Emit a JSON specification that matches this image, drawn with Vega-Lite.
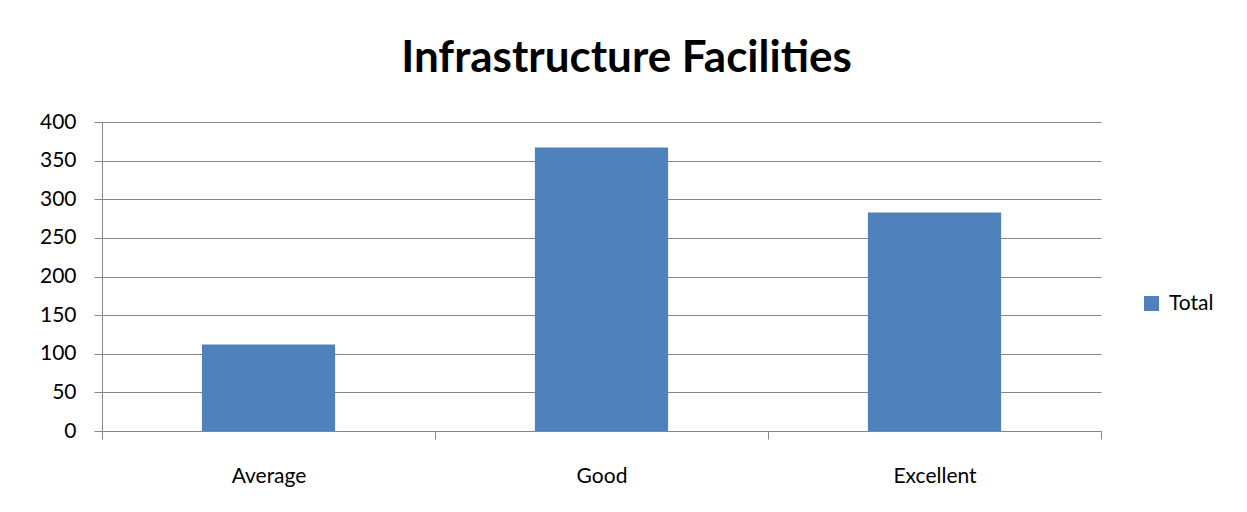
{
  "$schema": "https://vega.github.io/schema/vega-lite/v6.json",
  "autosize": {"type": "none"},
  "width": 999,
  "height": 309,
  "padding": {"left": 102, "top": 122, "right": 146, "bottom": 81},
  "background": "white",
  "title": {
    "text": "Infrastructure Facilities",
    "font": "Lato",
    "fontSize": 44,
    "fontWeight": "bold",
    "color": "#000000",
    "anchor": "middle",
    "dx": 25,
    "offset": 30
  },
  "data": {
    "values": [
      {"rating": "Average", "count": 112, "series": "Total"},
      {"rating": "Good", "count": 367, "series": "Total"},
      {"rating": "Excellent", "count": 283, "series": "Total"}
    ]
  },
  "mark": {"type": "bar", "width": {"band": 0.4}},
  "encoding": {
    "x": {
      "field": "rating",
      "type": "nominal",
      "sort": ["Average", "Good", "Excellent"],
      "scale": {"paddingInner": 0, "paddingOuter": 0},
      "axis": {
        "title": null,
        "labelAngle": 0,
        "tickBand": "extent",
        "tickSize": 8,
        "tickColor": "#868686",
        "domainColor": "#868686",
        "labelPadding": 26,
        "labelFont": "Lato",
        "labelFontSize": 21,
        "labelColor": "#000000"
      }
    },
    "y": {
      "field": "count",
      "type": "quantitative",
      "scale": {"domain": [0, 400]},
      "axis": {
        "title": null,
        "values": [0, 50, 100, 150, 200, 250, 300, 350, 400],
        "tickSize": 8,
        "tickColor": "#868686",
        "domainColor": "#868686",
        "gridColor": "#868686",
        "grid": true,
        "labelPadding": 18,
        "labelFont": "Lato",
        "labelFontSize": 21,
        "labelColor": "#000000"
      }
    },
    "color": {
      "field": "series",
      "type": "nominal",
      "scale": {"range": ["#4F81BD"]},
      "legend": {
        "title": null,
        "orient": "none",
        "legendX": 1039,
        "legendY": 171,
        "symbolType": "square",
        "symbolSize": 225,
        "symbolOpacity": 1,
        "labelFont": "Lato",
        "labelFontSize": 21,
        "labelColor": "#000000",
        "labelOffset": 7
      }
    }
  },
  "config": {
    "view": {"stroke": null}
  }
}
